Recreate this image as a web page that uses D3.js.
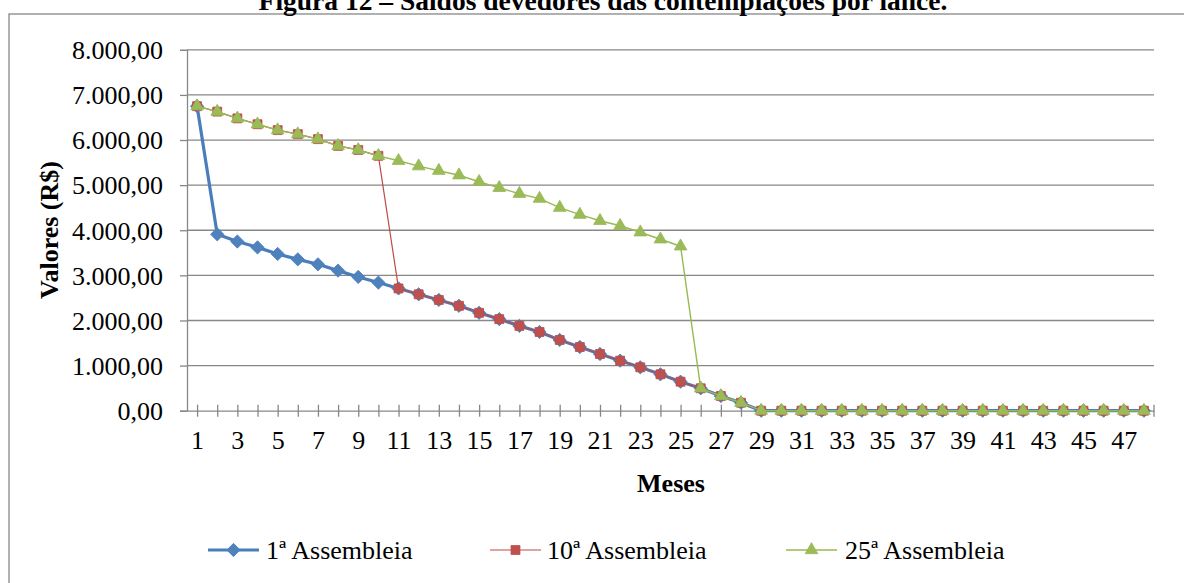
<!DOCTYPE html>
<html>
<head>
<meta charset="utf-8">
<script src="https://cdn.jsdelivr.net/npm/d3@7"></script>
<style>
  html, body { margin: 0; padding: 0; background: #fff; }
  svg { display: block; }
  text { font-family: "Liberation Serif", "Times New Roman", serif; fill: #000; }
</style>
</head>
<body>
<svg id="chart" width="1184" height="583"></svg>
<script>
// Months 1..48
const months = d3.range(1, 49);
const yTicks = [0, 1000, 2000, 3000, 4000, 5000, 6000, 7000, 8000];

// Balance when contemplated in the 1st assembly
const serie1 = [6750, 3910, 3750, 3620, 3475, 3355, 3245, 3105, 2965, 2840,
  2710, 2580, 2455, 2325, 2170, 2030, 1880, 1745, 1568, 1412,
  1257, 1109, 962, 807, 643, 497, 326, 177, 0, 0,
  0, 0, 0, 0, 0, 0, 0, 0, 0, 0,
  0, 0, 0, 0, 0, 0, 0, 0];

// Balance when contemplated in the 10th assembly
const serie10 = [6750, 6630, 6480, 6350, 6220, 6130, 6020, 5870, 5780, 5650,
  2710, 2580, 2455, 2325, 2170, 2030, 1880, 1745, 1568, 1412,
  1257, 1109, 962, 807, 643, 497, 326, 177, 0, 0,
  0, 0, 0, 0, 0, 0, 0, 0, 0, 0,
  0, 0, 0, 0, 0, 0, 0, 0];

// Balance when contemplated in the 25th assembly
const serie25 = [6750, 6630, 6480, 6350, 6220, 6130, 6020, 5870, 5780, 5650,
  5540, 5420, 5320, 5220, 5075, 4940, 4810, 4700, 4500, 4345,
  4210, 4100, 3955, 3800, 3645, 497, 326, 177, 0, 0,
  0, 0, 0, 0, 0, 0, 0, 0, 0, 0,
  0, 0, 0, 0, 0, 0, 0, 0];

const seriesNames = ["1ª Assembleia", "10ª Assembleia", "25ª Assembleia"];

const svg = d3.select('#chart');
const gridColor = '#878787';

const ptBR = d3.formatLocale({ decimal: ',', thousands: '.', grouping: [3], currency: ['R$', ''] });
const fmt = ptBR.format(',.2f');

const plotLeft = 187, plotRight = 1154, plotTop = 49.8, plotBottom = 410.7;

const x = d3.scalePoint().domain(months).range([plotLeft, plotRight]).padding(0.5);
const y = d3.scaleLinear().domain([0, 8000]).range([plotBottom, plotTop]);

// Outer frame (extends past the picture on the right and bottom)
svg.append('rect')
  .attr('x', 9).attr('y', 14)
  .attr('width', 1200).attr('height', 600)
  .attr('fill', 'none')
  .attr('stroke', gridColor)
  .attr('stroke-width', 1.3);

// Title, top half cut off by the picture edge as in the source
svg.append('text')
  .attr('x', 603).attr('y', 10)
  .attr('text-anchor', 'middle')
  .style('font-size', '27.5px')
  .style('font-weight', 'bold')
  .text('Figura 12 – Saldos devedores das contemplações por lance.');

// y axis
const yAxis = d3.axisLeft(y)
  .tickValues(yTicks)
  .tickSize(7)
  .tickPadding(17)
  .tickFormat(fmt);

const gy = svg.append('g')
  .attr('transform', `translate(${plotLeft},0)`)
  .call(yAxis);
gy.select('.domain').attr('stroke', gridColor).attr('stroke-width', 1.3);
gy.selectAll('.tick line').attr('stroke', gridColor).attr('stroke-width', 1.3);
gy.selectAll('.tick text')
  .style('font-size', '26px')
  .style('font-family', '"Liberation Serif", serif')
  .attr('dy', '0.34em');

// Gridlines
svg.append('g')
  .selectAll('line')
  .data(yTicks.filter(v => v > 0))
  .join('line')
  .attr('x1', plotLeft).attr('x2', plotRight)
  .attr('y1', d => y(d)).attr('y2', d => y(d))
  .attr('stroke', gridColor)
  .attr('stroke-width', 1.3);

// x axis
const xAxis = d3.axisBottom(x)
  .tickSizeInner(6)
  .tickSizeOuter(0)
  .tickPadding(14)
  .tickFormat(d => (d % 2 === 1 ? d : ''));

const gx = svg.append('g')
  .attr('transform', `translate(0,${plotBottom})`)
  .call(xAxis);
gx.select('.domain').attr('stroke', gridColor).attr('stroke-width', 1.3);
gx.selectAll('.tick line')
  .attr('y1', -6).attr('y2', 6)
  .attr('stroke', gridColor).attr('stroke-width', 1.3);
gx.selectAll('.tick text')
  .style('font-size', '26px')
  .style('font-family', '"Liberation Serif", serif');
gx.append('line')
  .attr('x1', plotRight).attr('x2', plotRight)
  .attr('y1', -6).attr('y2', 6)
  .attr('stroke', gridColor).attr('stroke-width', 1.3);

// Axis titles
svg.append('text')
  .attr('x', 671).attr('y', 492)
  .attr('text-anchor', 'middle')
  .style('font-size', '26px')
  .style('font-weight', 'bold')
  .text('Meses');

svg.append('text')
  .attr('transform', 'translate(58,230) rotate(-90)')
  .attr('text-anchor', 'middle')
  .style('font-size', '26px')
  .style('font-weight', 'bold')
  .text('Valores (R$)');

// Series
const styles = [
  { data: serie1, line: '#4A7EBB', width: 3.2, fill: '#4F81BD', stroke: '#4A7EBB',
    symbol: d3.symbolSquare, size: 88, rotate: 45 },
  { data: serie10, line: '#BE4B48', width: 1.2, fill: '#C0504D', stroke: '#BE4B48',
    symbol: d3.symbolSquare, size: 80, rotate: 0 },
  { data: serie25, line: '#98B954', width: 1.4, fill: '#9BBB59', stroke: '#98B954',
    symbol: d3.symbolTriangle, size: 70, rotate: 0 }
];

const line = d3.line()
  .x((d, i) => x(months[i]))
  .y(d => y(d));

styles.forEach(s => {
  const g = svg.append('g');
  g.append('path')
    .datum(s.data)
    .attr('d', line)
    .attr('fill', 'none')
    .attr('stroke', s.line)
    .attr('stroke-width', s.width)
    .attr('stroke-linejoin', 'round');
  g.selectAll('path.marker')
    .data(s.data)
    .join('path')
    .attr('class', 'marker')
    .attr('d', d3.symbol().type(s.symbol).size(s.size))
    .attr('transform', (d, i) => `translate(${x(months[i])},${y(d)}) rotate(${s.rotate})`)
    .attr('fill', s.fill)
    .attr('stroke', s.stroke)
    .attr('stroke-width', 0.8)
    .attr('stroke-linejoin', 'round');
});

// Legend
const legendX = [208, 490, 786];
const legendY = 550;
const legend = svg.append('g')
  .selectAll('g')
  .data(styles)
  .join('g')
  .attr('transform', (d, i) => `translate(${legendX[i]},${legendY})`);

legend.append('line')
  .attr('x1', 0).attr('x2', 51)
  .attr('y1', 0).attr('y2', 0)
  .attr('stroke', d => d.line)
  .attr('stroke-width', d => d.width);

legend.append('path')
  .attr('d', d => d3.symbol().type(d.symbol).size(d.size)())
  .attr('transform', d => `translate(25.5,0) rotate(${d.rotate})`)
  .attr('fill', d => d.fill)
  .attr('stroke', d => d.stroke)
  .attr('stroke-width', 0.8);

legend.append('text')
  .attr('x', (d, i) => [58, 57, 59][i])
  .attr('dy', '0.33em')
  .style('font-size', '26px')
  .text((d, i) => seriesNames[i]);
</script>
</body>
</html>
